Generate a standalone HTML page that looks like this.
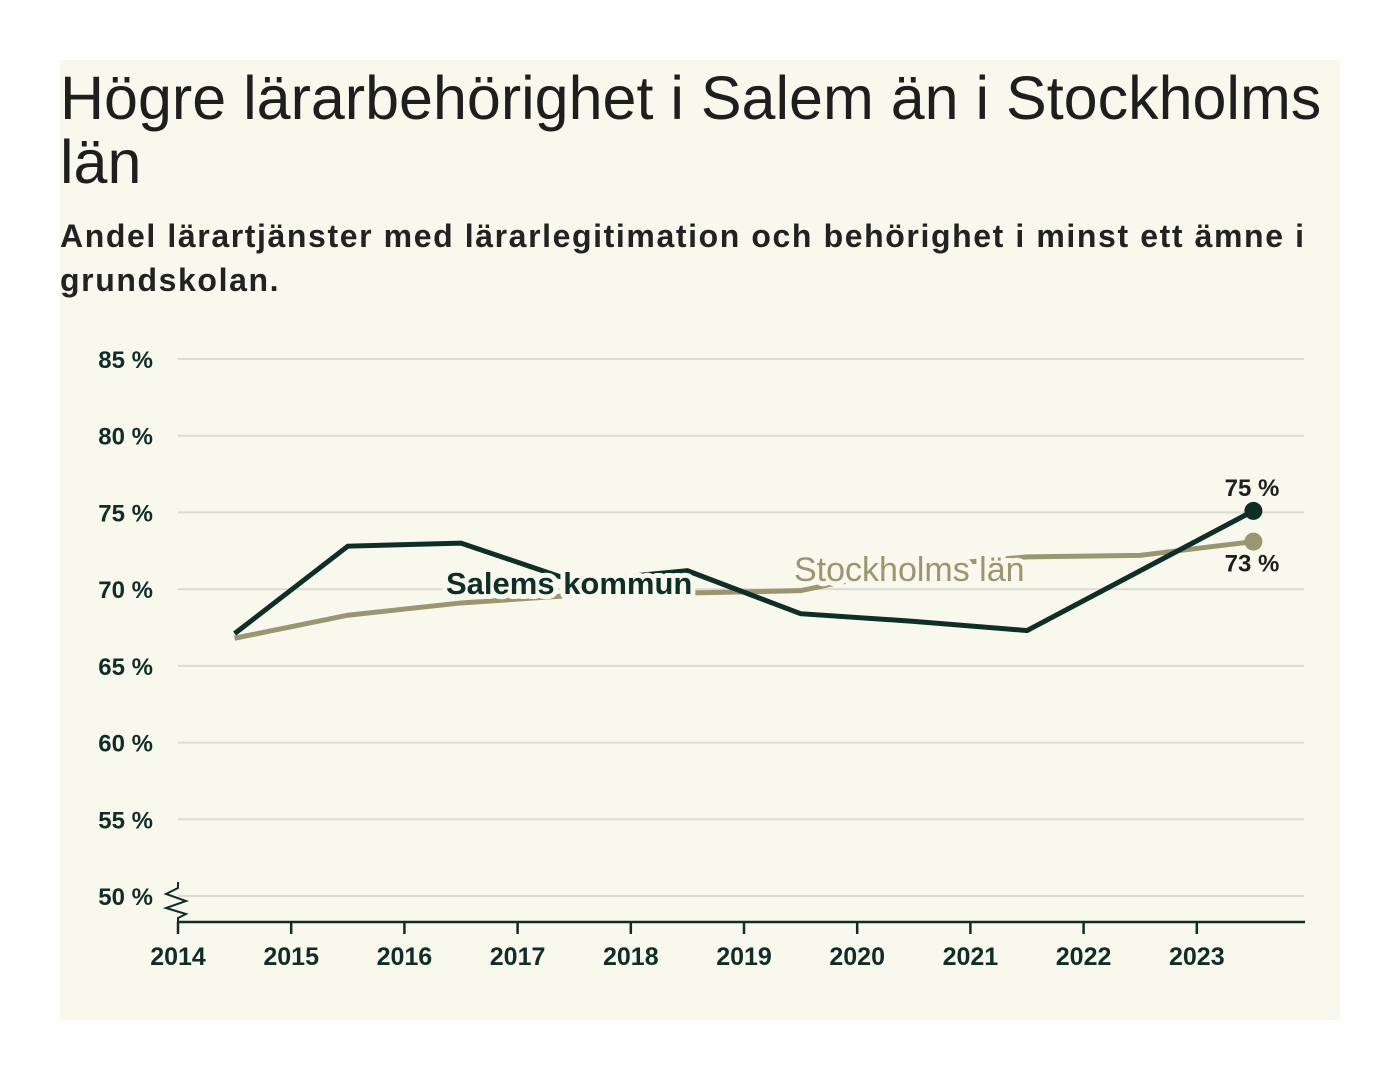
<!DOCTYPE html>
<html><head><meta charset="utf-8"><style>
body{margin:0;background:#fff;width:1400px;height:1080px;overflow:hidden;font-family:"Liberation Sans",sans-serif}
#panel{position:absolute;left:60px;top:60px;width:1280px;height:960px;background:#f9f8ec}
h1{position:absolute;left:0;top:6px;margin:0;font-size:61px;font-weight:normal;line-height:64px;color:#1e1e1e;width:1275px;letter-spacing:0px}
h2{position:absolute;left:0;top:154px;margin:0;font-size:32px;font-weight:bold;line-height:44px;color:#222;width:1270px;letter-spacing:1.6px}
svg{position:absolute;left:0;top:0}
</style></head><body>
<div id="panel">
<h1>Högre lärarbehörighet i Salem än i Stockholms län</h1>
<h2>Andel lärartjänster med lärarlegitimation och behörighet i minst ett ämne i grundskolan.</h2>
</div>
<svg id="chart" width="1400" height="1080"></svg>
<script>
const years=[2014,2015,2016,2017,2018,2019,2020,2021,2022,2023];
const yTicks=[50,55,60,65,70,75,80,85];
const pointYears=[2014.5,2015.5,2016.5,2017.5,2018.5,2019.5,2020.5,2021.5,2022.5,2023.5];
const salem=[67.1,72.8,73.0,70.5,71.2,68.4,67.9,67.3,71.2,75.1];
const stockholm=[66.8,68.3,69.1,69.6,69.75,69.9,71.45,72.1,72.2,73.1];
const endLabels=["75 %","73 %"];
const NS="http://www.w3.org/2000/svg";
const svg=document.getElementById('chart');
const x=v=>178+(v-2014)*113.2;
const y=v=>896-(v-50)*15.343;
function mk(t,a,p){const e=document.createElementNS(NS,t);for(const k in a)e.setAttribute(k,a[k]);(p||svg).appendChild(e);return e;}
yTicks.forEach(t=>{
  const g=mk('line',{x1:178,x2:1304,y1:y(t),y2:y(t),stroke:'#dcdcd6','stroke-width':2});
  
  
  const l=mk('text',{x:153,y:y(t)+9,'text-anchor':'end','font-size':24,'font-weight':'bold',fill:'#0f2e28'});
  l.textContent=t+' %';
  
  
});
const ax=mk('line',{x1:178,x2:1305,y1:922,y2:922,stroke:'#0f2e28','stroke-width':2.5});


const br=mk('path',{d:'M178 882 L178 888 L166 894 L186 901 L166 908 L186 914 L178 918 L178 922',fill:'none',stroke:'#0f2e28','stroke-width':2});


years.forEach(v=>{
  const t=mk('line',{x1:x(v),x2:x(v),y1:922,y2:934,stroke:'#0f2e28','stroke-width':2.5});
  
  
  const l=mk('text',{x:x(v),y:965,'text-anchor':'middle','font-size':25,'font-weight':'bold',fill:'#0f2e28'});
  l.textContent=v;
  
  
});
function line(data,col,name){
  const p=mk('polyline',{points:data.map((v,i)=>x(pointYears[i])+','+y(v)).join(' '),fill:'none',stroke:col,'stroke-width':5,'stroke-linejoin':'miter'});
  
  
  const n=data.length-1;
  const c=mk('circle',{cx:x(pointYears[n]),cy:y(data[n]),r:9,fill:col});
  
  
}
line(stockholm,'#9a9670','stockholm-line');
line(salem,'#0e2f27','salem-line');
function label(txt,xx,yy,col,name,size,w){
  const t=mk('text',{x:xx,y:yy,'font-size':size,'font-weight':w,fill:col,stroke:'#f9f8ec','stroke-width':10,'paint-order':'stroke','stroke-linejoin':'round'});
  t.textContent=txt;
  
  
  return t;
}
label('Salems kommun',446,594,'#0e2f27','salem-label',31,'bold');
label('Stockholms län',794,581,'#9a9670','stockholm-label',34,'normal');
const a=label(endLabels[0],1252,y(salem[9])-15,'#1e1e1e','salem-end-value',24,'bold');
const b=label(endLabels[1],1252,y(stockholm[9])+30,'#1e1e1e','stockholm-end-value',24,'bold');
a.setAttribute('text-anchor','middle');
b.setAttribute('text-anchor','middle');
</script>
</body></html>
